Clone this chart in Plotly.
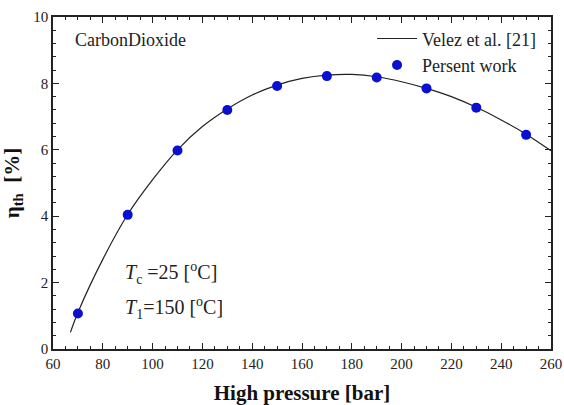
import plotly.graph_objects as go

# Velez et al. [21] curve
line_p = [67, 70, 80, 90, 100, 110, 120, 130, 140, 150, 160, 170, 180, 190, 200, 210, 220, 230, 240, 250, 260]
line_eta = [0.5, 1.1, 2.7, 4.05, 5.1, 6.0, 6.7, 7.23, 7.65, 7.95, 8.15, 8.25, 8.27, 8.2, 8.05, 7.85, 7.6, 7.28, 6.9, 6.47, 5.97]

# Present work points
pts_p = [70, 90, 110, 130, 150, 170, 190, 210, 230, 250]
pts_eta = [1.07, 4.04, 5.98, 7.2, 7.92, 8.22, 8.18, 7.85, 7.27, 6.45]

serif = "Liberation Serif"

fig = go.Figure()
fig.add_trace(go.Scatter(x=line_p, y=line_eta, mode="lines", name="Velez et al. [21]",
                         line=dict(color="#222222", width=1.2, shape="spline")))
fig.add_trace(go.Scatter(x=pts_p, y=pts_eta, mode="markers", name="Persent work",
                         marker=dict(color="#0a10d0", size=10)))

axis_common = dict(showline=True, linecolor="#222222", linewidth=1.5, mirror="ticks",
                   ticks="inside", tickcolor="#222222", ticklen=6, tickwidth=1.2,
                   showgrid=False, zeroline=False, automargin=False,
                   ticklabeloverflow="allow",
                   tickfont=dict(family=serif, size=15, color="#222222"))

fig.update_xaxes(range=[60, 260], dtick=20, tick0=60,
                 minor=dict(ticks="inside", dtick=5, ticklen=3, tickcolor="#222222"),
                 title=dict(text="<b>High pressure [bar]</b>", font=dict(family=serif, size=21, color="#111111"), standoff=17),
                 **axis_common)
fig.update_yaxes(range=[0, 10], dtick=2, tick0=0,
                 minor=dict(ticks="inside", dtick=0.4, ticklen=3, tickcolor="#222222"),
                 title=dict(text="<b>η<sub>th</sub>  [%]</b>", font=dict(family=serif, size=21, color="#111111"), standoff=10),
                 **axis_common)

fig.add_annotation(x=0.04, y=0.93, xref="paper", yref="paper", xanchor="left", yanchor="middle",
                   text="CarbonDioxide", showarrow=False, font=dict(family=serif, size=18, color="#222222"))
fig.add_annotation(x=0.141, y=0.23, xref="paper", yref="paper", xanchor="left", yanchor="middle",
                   text="<i>T</i><sub>c</sub> =25 [<sup>o</sup>C]", showarrow=False,
                   font=dict(family=serif, size=20, color="#222222"))
fig.add_annotation(x=0.141, y=0.125, xref="paper", yref="paper", xanchor="left", yanchor="middle",
                   text="<i>T</i><sub>1</sub>=150 [<sup>o</sup>C]", showarrow=False,
                   font=dict(family=serif, size=20, color="#222222"))

fig.update_layout(width=564, height=405, paper_bgcolor="white", plot_bgcolor="white",
                  margin=dict(l=53, r=13, t=17, b=56),
                  font=dict(family=serif),
                  showlegend=True,
                  legend=dict(x=0.98, y=0.99, xanchor="right", yanchor="top", bgcolor="rgba(0,0,0,0)",
                              font=dict(family=serif, size=18, color="#222222"),
                              itemwidth=40, tracegroupgap=0))

# remove the default 8px page margin so the figure fills the window exactly
fig.write_html("out.html", config={"displayModeBar": False},
               post_script="document.body.style.margin='0';document.body.style.overflow='hidden';")
